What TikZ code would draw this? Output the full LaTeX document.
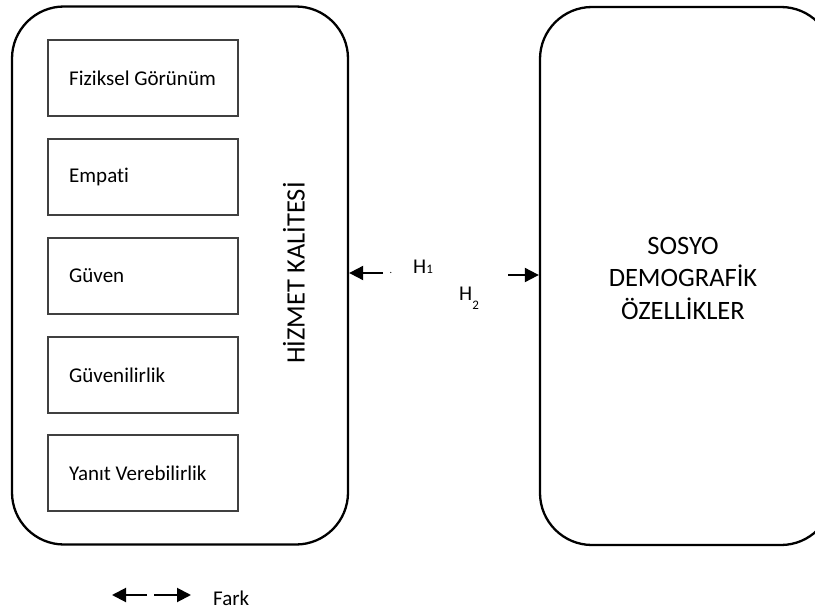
\documentclass[tikz,border=0pt]{standalone}
\usepackage{fontspec}
\setmainfont{Carlito}[Ligatures={NoCommon}]
\usetikzlibrary{arrows.meta}
\begin{document}
\begin{tikzpicture}[x=1pt,y=-1pt,
  bigbox/.style={draw, line width=2.3pt, rounded corners=52pt, inner sep=0pt},
  itembox/.style={draw=black!75, line width=1.3pt, minimum width=190pt, minimum height=76pt, inner sep=0pt},
  itemtext/.style={anchor=west, font=\fontsize{21}{25}\selectfont, inner sep=0pt},
  bigtext/.style={font=\fontsize{26.5}{32.5}\selectfont, align=center, inner sep=0pt},
  arr/.style={line width=2pt, -{Triangle[length=14pt,width=14pt]}},
  lbl/.style={font=\fontsize{21}{25}\selectfont, inner sep=0pt}]
\useasboundingbox (0,0) rectangle (815,610);
% big boxes
\node[bigbox, minimum width=336pt, minimum height=538pt] (hk) at (180,275.5) {};
\node[bigbox, minimum width=293pt, minimum height=538pt] (sd) at (686.5,276) {};
% item boxes
\node[itembox] (b1) at (143,78) {};
\node[itembox] (b2) at (143,177) {};
\node[itembox] (b3) at (143,276) {};
\node[itembox] (b4) at (143,375) {};
\node[itembox] (b5) at (143,473) {};
\node[itemtext] (t1) at (69,78) {Fiziksel Görünüm};
\node[itemtext] (t2) at (69,177) {Empati};
\node[itemtext] (t3) at (69,276) {Güven};
\node[itemtext] (t4) at (69,375) {Güvenilirlik};
\node[itemtext] (t5) at (69,473) {Yanıt Verebilirlik};
% rotated title
\node[bigtext, rotate=90] (hkt) at (294,273) {HİZMET KALİTESİ};
% right text
\node[bigtext] (sdt) at (683,278) {SOSYO\\DEMOGRAFİK\\ÖZELLİKLER};
% arrows
\coordinate (a1) at (383,273);
\coordinate (a2) at (508,275);
\draw[arr] (a1) -- (hk.east |- a1);
\draw[arr] (a2) -- (sd.west |- a2);
\node[inner sep=0pt, font=\fontsize{10}{12}\selectfont] (dot) at (391,273) {.};
\node[lbl, anchor=base west] (h1) at (413,273) {H{\fontsize{13}{13}\selectfont 1}};
\node[lbl, anchor=base west] (h2) at (459,300) {H\raisebox{-9pt}{\fontsize{13}{13}\selectfont 2}};
% legend
\coordinate (l1) at (147,595);
\coordinate (l1t) at (112,595);
\coordinate (l2) at (154,595);
\coordinate (l2t) at (191,595);
\draw[arr] (l1) -- (l1t);
\draw[arr] (l2) -- (l2t);
\node[lbl, anchor=base west] (fark) at (213,605) {Fark};
\end{tikzpicture}
\end{document}
